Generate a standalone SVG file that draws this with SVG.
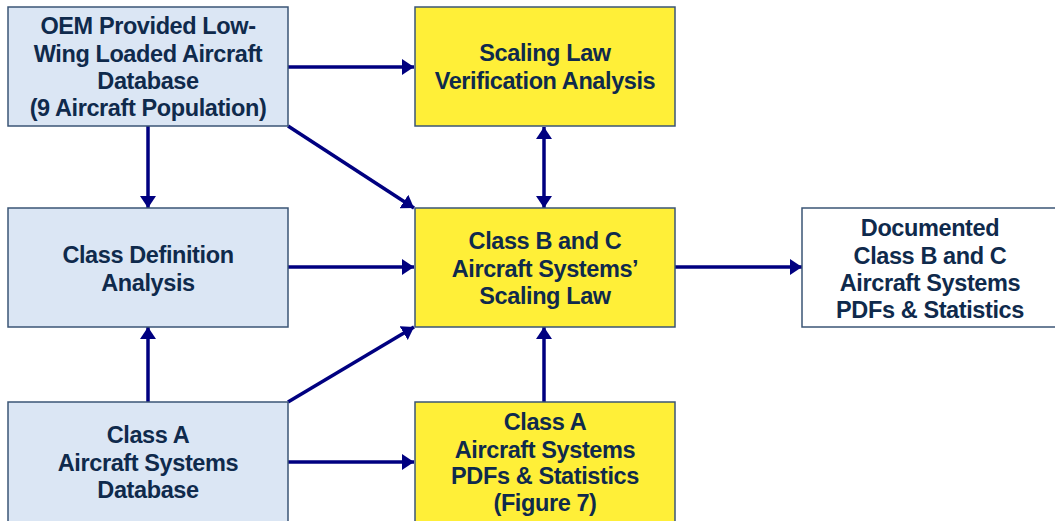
<svg xmlns="http://www.w3.org/2000/svg" width="1055" height="521" viewBox="0 0 1055 521">
<defs>
<style>
.box{stroke:#3b5576;stroke-width:1.5}
.blue{fill:#dbe6f4}
.yellow{fill:#ffef38}
.white{fill:#ffffff}
.t{font-family:"Liberation Sans",Arial,sans-serif;font-weight:bold;font-size:23.5px;letter-spacing:-0.4px;fill:#0f2a4c;text-anchor:middle}
.c{stroke:#000080;stroke-width:3.5;fill:none}
</style>
<marker id="ah" viewBox="0 0 12 16" refX="12" refY="8" markerWidth="12" markerHeight="16" markerUnits="userSpaceOnUse" orient="auto-start-reverse">
<path d="M0,0 L12,8 L0,16 Z" fill="#000080"/>
</marker>
</defs>
<rect width="1055" height="521" fill="#ffffff"/>
<g id="connectors">
<line class="c" x1="288" y1="67" x2="414" y2="67" marker-end="url(#ah)"/>
<line class="c" x1="148" y1="126" x2="148" y2="208" marker-end="url(#ah)"/>
<line class="c" x1="288" y1="126" x2="414" y2="208" marker-end="url(#ah)"/>
<line class="c" x1="544" y1="127" x2="544" y2="208" marker-start="url(#ah)" marker-end="url(#ah)"/>
<line class="c" x1="288" y1="267" x2="414" y2="267" marker-end="url(#ah)"/>
<line class="c" x1="675" y1="267" x2="802" y2="267" marker-end="url(#ah)"/>
<line class="c" x1="148" y1="402" x2="148" y2="327" marker-end="url(#ah)"/>
<line class="c" x1="288" y1="402" x2="414" y2="327" marker-end="url(#ah)"/>
<line class="c" x1="288" y1="462" x2="414" y2="462" marker-end="url(#ah)"/>
<line class="c" x1="544" y1="402" x2="544" y2="327" marker-end="url(#ah)"/>
</g>
<g id="oem">
<rect class="box blue" x="8" y="7" width="280" height="119"/>
<text class="t" x="148" y="34">OEM Provided Low-</text>
<text class="t" x="148" y="62">Wing Loaded Aircraft</text>
<text class="t" x="148" y="89">Database</text>
<text class="t" x="148" y="116">(9 Aircraft Population)</text>
</g>
<g id="verification">
<rect class="box yellow" x="415" y="7" width="260" height="119"/>
<text class="t" x="545" y="61">Scaling Law</text>
<text class="t" x="545" y="89">Verification Analysis</text>
</g>
<g id="classdef">
<rect class="box blue" x="8" y="208" width="280" height="119"/>
<text class="t" x="148" y="263">Class Definition</text>
<text class="t" x="148" y="291">Analysis</text>
</g>
<g id="scalinglaw">
<rect class="box yellow" x="415" y="208" width="260" height="119"/>
<text class="t" x="545" y="249">Class B and C</text>
<text class="t" x="545" y="277">Aircraft Systems’</text>
<text class="t" x="545" y="304">Scaling Law</text>
</g>
<g id="documented">
<rect class="box white" x="802" y="208" width="260" height="119"/>
<text class="t" x="930" y="236">Documented</text>
<text class="t" x="930" y="264">Class B and C</text>
<text class="t" x="930" y="291">Aircraft Systems</text>
<text class="t" x="930" y="318">PDFs &amp; Statistics</text>
</g>
<g id="classadb">
<rect class="box blue" x="8" y="402" width="280" height="125"/>
<text class="t" x="148" y="443">Class A</text>
<text class="t" x="148" y="471">Aircraft Systems</text>
<text class="t" x="148" y="498">Database</text>
</g>
<g id="classapdf">
<rect class="box yellow" x="415" y="402" width="260" height="125"/>
<text class="t" x="545" y="430">Class A</text>
<text class="t" x="545" y="458">Aircraft Systems</text>
<text class="t" x="545" y="484">PDFs &amp; Statistics</text>
<text class="t" x="545" y="511">(Figure 7)</text>
</g>
</svg>
